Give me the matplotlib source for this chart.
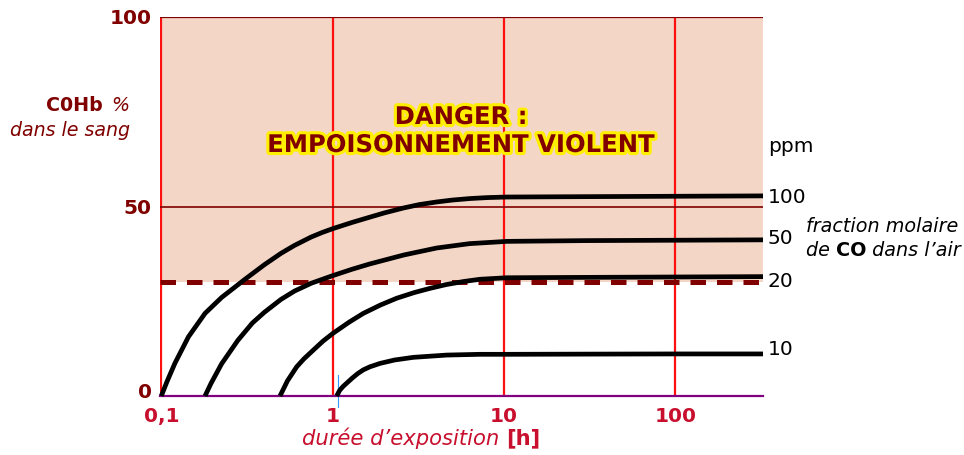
import matplotlib as mpl
mpl.use('Agg')
import matplotlib.pyplot as plt
import matplotlib.patheffects as pe
from matplotlib.transforms import ScaledTranslation

# --- data (time in h, COHb in %) ---
t_100 = [0.1, 0.108, 0.120, 0.144, 0.180, 0.225, 0.308, 0.40, 0.50, 0.60, 0.75, 0.87, 1.009, 1.3,
         1.653, 2.0, 2.587, 3.2, 4.05, 5.0, 6.34, 8.0, 10.4, 30, 100, 325]
y_100 = [0, 3.8, 8.6, 15.6, 21.8, 26.0, 30.8, 34.65, 37.65, 39.75, 41.95, 43.15, 44.2, 45.8,
         47.2, 48.3, 49.6, 50.5, 51.2, 51.7, 52.1, 52.35, 52.5, 52.6, 52.7, 52.8]

t_50 = [0.180, 0.195, 0.225, 0.28, 0.34, 0.40, 0.50, 0.60, 0.75, 1.0, 1.3, 1.65, 2.6, 4.05, 6.3,
        10.4, 30, 100, 325]
y_50 = [0, 3.3, 8.5, 14.7, 19.25, 22.1, 25.5, 27.7, 29.75, 31.75, 33.45, 34.85, 37.2, 39.05, 40.2,
        40.8, 41.0, 41.1, 41.2]

t_20 = [0.493, 0.545, 0.617, 0.68, 0.771, 0.88, 1.009, 1.25, 1.511, 1.9, 2.367, 3.0, 3.70, 4.6, 5.80,
        7.25, 10.4, 30, 100, 325]
y_20 = [0, 4.0, 7.7, 9.8, 12.1, 14.5, 16.6, 19.5, 21.8, 24.0, 25.8, 27.3, 28.4, 29.4, 30.2,
        30.8, 31.2, 31.3, 31.4, 31.5]

t_10 = [1.056, 1.10, 1.15, 1.209, 1.30, 1.40, 1.511, 1.65, 1.891, 2.3, 2.958, 3.7, 4.64, 7.25,
        10.4, 30, 100, 325]
y_10 = [0, 1.5, 2.5, 3.4, 4.7, 5.9, 6.9, 7.7, 8.6, 9.5, 10.2, 10.5, 10.8, 11.0,
        11.0, 11.05, 11.1, 11.1]

ppm_labels = ['100', '50', '20', '10']
ppm_y = [52.5, 41.5, 30.3, 12.4]

xticks = [0.1, 1, 10, 100]
xtick_labels = ['0,1', '1', '10', '100']
yticks = [0, 50, 100]

DARK = '#800000'
CRIMSON = '#C8102E'

fig = plt.figure(figsize=(9.64, 4.55), dpi=100)
ax = fig.add_axes([160 / 964, 59 / 455, 603 / 964, 379 / 455])
ax.set_xscale('log')
ax.set_xlim(0.0983, 325)
ax.set_ylim(0, 100)
for s in ax.spines.values():
    s.set_visible(False)

# danger zone
ax.axhspan(30, 100, color='#F3D6C6', lw=0, zorder=0)
for xv in xticks:
    ax.axvline(xv, color='#FF1010', lw=1.6, zorder=1)
ax.axhline(100, color=DARK, lw=1.6, zorder=2)
ax.axhline(50, color=DARK, lw=1.2, zorder=2)
ax.axhline(30, color=DARK, lw=3.6, dashes=(3.1, 2.2), zorder=2)
ax.axhline(0, color='#800080', lw=1.6, zorder=2, clip_on=False)
ax.plot([1.07, 1.07], [-3, 5.5], color='#3399FF', lw=0.8, clip_on=False, zorder=3)

for tx, ty in [(t_100, y_100), (t_50, y_50), (t_20, y_20), (t_10, y_10)]:
    ax.plot(tx, ty, color='black', lw=3.4, solid_capstyle='butt',
            solid_joinstyle='round', zorder=4, clip_on=False)

ax.set_xticks(xticks)
ax.set_xticklabels(xtick_labels, fontsize=14.5, fontweight='bold', color=CRIMSON)
ax.minorticks_off()
ax.set_yticks(yticks)
ax.set_yticklabels([str(v) for v in yticks], fontsize=14.5, fontweight='bold', color=DARK)
ax.tick_params(length=0, pad=6)
ax.tick_params(axis='x', pad=8)
# the "0" sits a bit higher than its tick
lbl0 = ax.yaxis.get_major_ticks()[0].label1
lbl0.set_transform(lbl0.get_transform() + ScaledTranslation(0, 4 / 72, fig.dpi_scale_trans))

# ppm labels on the right
ax.text(1.008, 65.7, 'ppm', transform=ax.get_yaxis_transform(), fontsize=14.5, va='center')
for lab, yv in zip(ppm_labels, ppm_y):
    ax.text(1.008, yv, lab, transform=ax.get_yaxis_transform(), fontsize=14.5, va='center')


def chain(prev, s, dx=0, **kw):
    # put a piece of text right after another one, on the same baseline
    return ax.annotate(s, xy=(1, 0), xycoords=prev, xytext=(dx, 0), textcoords='offset points',
                       va='bottom', annotation_clip=False, **kw)


fig.text(806 / 964, 1 - 227 / 455, 'fraction molaire', fontsize=13.8, style='italic', va='center')
t2 = fig.text(806 / 964, 1 - 250 / 455, 'de ', fontsize=13.8, style='italic', va='center')
t3 = chain(t2, 'CO', fontsize=13.8, fontweight='bold')
chain(t3, ' dans l’air', fontsize=13.8, style='italic')

# y label
a1 = fig.text(46 / 964, 1 - 105 / 455, 'C0Hb', fontsize=13.7, fontweight='bold', color=DARK, va='center')
chain(a1, ' %', dx=2.5, fontsize=13.7, style='italic', color=DARK)
fig.text(130 / 964, 1 - 130 / 455, 'dans le sang', fontsize=13.7, style='italic', color=DARK,
         va='center', ha='right')

# x label
b1 = fig.text(302 / 964, 1 - 438 / 455, 'durée d’exposition ', fontsize=15.2, style='italic',
              color=CRIMSON, va='center')
chain(b1, '[h]', fontsize=15.2, fontweight='bold', color=CRIMSON)

# danger text
halo = [pe.withStroke(linewidth=4.5, foreground='#FFEE00')]
for txt, yp in [('DANGER :', 117), ('EMPOISONNEMENT VIOLENT', 145)]:
    fig.text(461 / 964, 1 - yp / 455, txt, fontsize=17.5, fontweight='bold', color=DARK,
             ha='center', va='center', path_effects=halo, zorder=5)

fig.savefig('out.png', dpi=100)
